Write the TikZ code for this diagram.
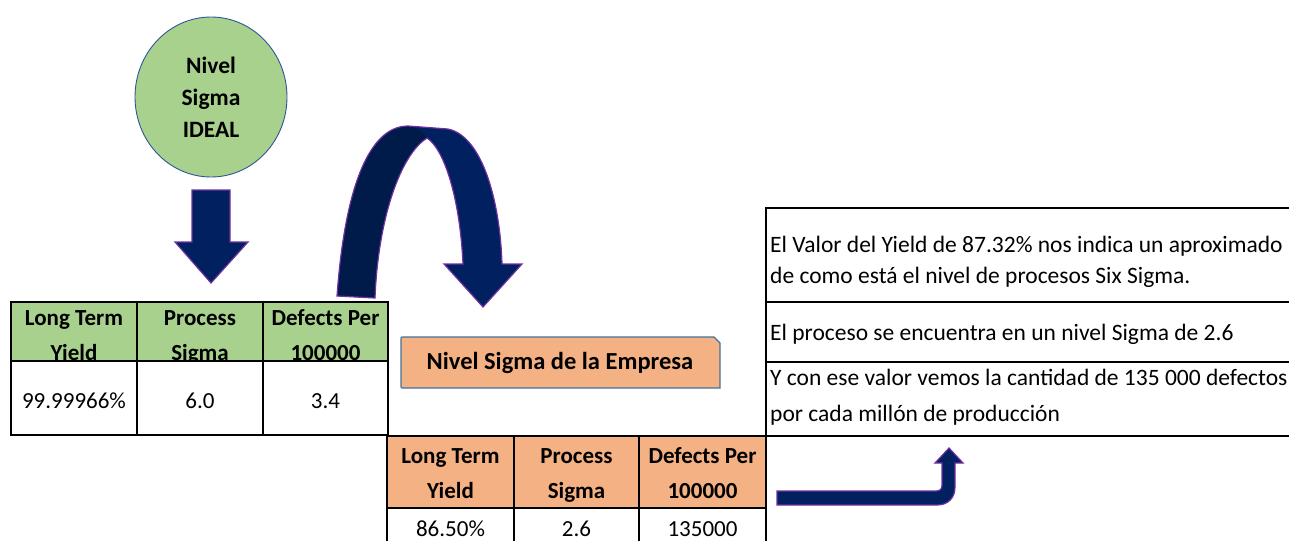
\documentclass[tikz,border=0pt]{standalone}
\usepackage{fontspec}
\setmainfont{Carlito}
\usetikzlibrary{shapes.geometric}
\definecolor{hgreen}{HTML}{A9D18E}
\definecolor{horange}{HTML}{F4B183}
\definecolor{navy}{HTML}{002060}
\definecolor{navydark}{HTML}{001A4A}
\definecolor{apurple}{HTML}{7030A0}
\definecolor{cblue}{HTML}{2F5597}
\definecolor{bblue}{HTML}{41719C}
\tikzset{
  blk/.style={line width=2pt, draw=black},
  hdr/.style={font=\fontsize{23}{28}\selectfont\bfseries, anchor=base, inner sep=0pt},
  cell/.style={font=\fontsize{23}{28}\selectfont, anchor=base, inner sep=0pt},
  note/.style={font=\fontsize{23.5}{28}\selectfont, anchor=base west, inner sep=0pt},
  blockarrow/.style={fill=navy, draw=apurple, line width=1.2pt, line join=miter},
}
\begin{document}
\begin{tikzpicture}[x=1pt,y=-1pt]
\useasboundingbox (0,0) rectangle (1289,541);

% ideal circle
\node[ellipse, fill=hgreen, draw=cblue, line width=0.9pt, minimum width=152pt, minimum height=160pt, inner sep=0pt] (ideal) at (211,97) {};
\node[hdr, font=\fontsize{23.5}{28}\selectfont\bfseries] (ideal1) at (211,73) {Nivel};
\node[hdr, font=\fontsize{23.5}{28}\selectfont\bfseries] (ideal2) at (211,105) {Sigma};
\node[hdr, font=\fontsize{23.5}{28}\selectfont\bfseries] (ideal3) at (211,137) {IDEAL};

% down arrow
\path[blockarrow] (192,190) -- (230,190) -- (230,242) -- (248,242) -- (211,283) -- (175,242) -- (192,242) -- cycle;

% left table
\fill[hgreen] (11,302) rectangle (388,361);
\begin{scope}
\clip (11,302) rectangle (388,360.5);
\node[hdr] (lh1a) at (74,325) {Long Term};
\node[hdr] (lh1b) at (74,360) {Yield};
\node[hdr] (lh2a) at (200,325) {Process};
\node[hdr] (lh2b) at (200,360) {Sigma};
\node[hdr] (lh3a) at (325.5,325) {Defects Per};
\node[hdr] (lh3b) at (325.5,360) {100000};
\end{scope}
\node[cell] (ld1) at (74,408) {99.99966\%};
\node[cell] (ld2) at (200,408) {6.0};
\node[cell] (ld3) at (325.5,408) {3.4};
\draw[blk] (11,302) rectangle (388,435);
\draw[blk] (11,361) -- (388,361);
\draw[blk] (137,302) -- (137,435);
\draw[blk] (263,302) -- (263,435);

% curved arrow
\fill[navy] (337,296) .. controls (345,185) and (370,126) .. (408,126) -- (448,129)
  .. controls (482,136) and (500,200) .. (502,264) -- (522,264) -- (483,307) -- (444,264) -- (463,264)
  .. controls (460,200) and (445,150) .. (427,138)
  .. controls (400,155) and (378,220) .. (375,298) -- cycle;
\fill[navydark] (337,296) .. controls (345,185) and (370,126) .. (408,126) .. controls (418,128) and (424,133) .. (427,138)
  .. controls (400,155) and (378,220) .. (375,298) -- cycle;
\draw[apurple, line width=1.2pt, line join=miter] (337,296) .. controls (345,185) and (370,126) .. (408,126) -- (448,129)
  .. controls (482,136) and (500,200) .. (502,264) -- (522,264) -- (483,307) -- (444,264) -- (463,264)
  .. controls (460,200) and (445,150) .. (427,138)
  .. controls (400,155) and (378,220) .. (375,298) -- cycle;

% orange label
\filldraw[fill=horange, draw=bblue, line width=1.2pt] (403,337) -- (714,337) -- (720,343) -- (720,388) -- (403,388)
  .. controls (401,388) .. (401,386) -- (401,339) .. controls (401,337) .. cycle;
\node[hdr, font=\fontsize{24.5}{28}\selectfont\bfseries] (empresa) at (560,369) {Nivel Sigma de la Empresa};

% bottom table
\fill[horange] (387,436) rectangle (766,508);
\node[hdr] (bh1a) at (450.5,463) {Long Term};
\node[hdr] (bh1b) at (450.5,498) {Yield};
\node[hdr] (bh2a) at (576.5,463) {Process};
\node[hdr] (bh2b) at (576.5,498) {Sigma};
\node[hdr] (bh3a) at (702.5,463) {Defects Per};
\node[hdr] (bh3b) at (702.5,498) {100000};
\node[cell] (bd1) at (450.5,536) {86.50\%};
\node[cell] (bd2) at (576.5,536) {2.6};
\node[cell] (bd3) at (702.5,536) {135000};
\draw[blk] (387,541) -- (387,436) -- (766,436) -- (766,541);
\draw[blk] (387,508) -- (766,508);
\draw[blk] (514,436) -- (514,541);
\draw[blk] (639,436) -- (639,541);

% right text box
\draw[blk] (766,436) -- (766,208) -- (1289,208);
\draw[blk] (766,302) -- (1289,302);
\draw[blk] (766,362) -- (1289,362);
\draw[blk] (766,436) -- (1289,436);
\node[note] (n1) at (770,252) {El Valor del Yield de 87.32\% nos indica un aproximado};
\node[note] (n2) at (770,283) {de como está el nivel de procesos Six Sigma.};
\node[note] (n3) at (770,340) {El proceso se encuentra en un nivel Sigma de 2.6};
\node[note] (n4) at (770,385) {Y con ese valor vemos la cantidad de 135 000 defectos};
\node[note] (n5) at (770,421) {por cada millón de producción};

% bent arrow
\path[blockarrow] (777,491) -- (936,491) .. controls (940,491) and (942,489) .. (942,485) -- (942,463)
  -- (935,463) -- (949,448) -- (963,463) -- (955,463) -- (955,487)
  .. controls (955,498) and (948,505) .. (937,505) -- (777,505) -- cycle;
\end{tikzpicture}
\end{document}
